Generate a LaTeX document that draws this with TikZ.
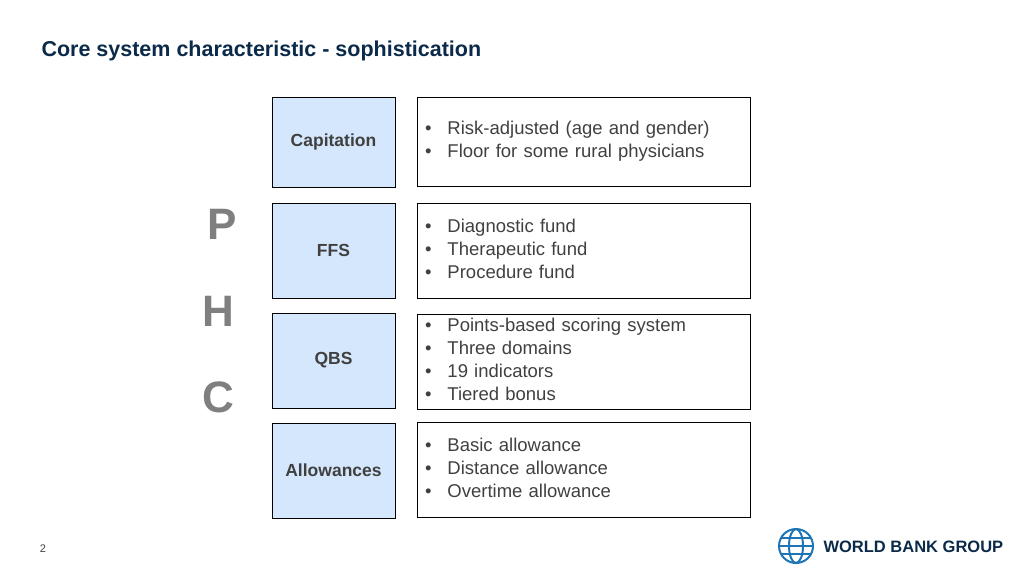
\documentclass[tikz,border=0pt]{standalone}
\usepackage{fontspec}
\setmainfont{Liberation Sans}
\usetikzlibrary{positioning}
\definecolor{titleblue}{HTML}{0B2A4A}
\definecolor{boxblue}{HTML}{D5E7FC}
\definecolor{textgray}{HTML}{404040}
\definecolor{letgray}{HTML}{7F7F7F}
\definecolor{wbblue}{HTML}{1D75B5}
\newcommand{\bulletlines}[1]{\begin{tabular}{@{}l@{\hspace{16pt}}l@{}}#1\end{tabular}}
\newcommand{\bl}{\textbullet}

\begin{document}
\begin{tikzpicture}[x=1pt, y=-1pt,
	kindbox/.style={draw=black, line width=1pt, fill=boxblue, minimum width=123pt,
		font=\fontsize{17.5}{20}\selectfont\bfseries, text=textgray},
	infobox/.style={draw=black, line width=1pt, minimum width=333pt, align=left,
		font=\fontsize{18.5}{23}\selectfont, text=textgray, inner sep=0pt},
	phcletter/.style={font=\fontsize{44}{44}\selectfont\bfseries, text=letgray}]
	\useasboundingbox (0,0) rectangle (1024,576);

	\node[anchor=west, font=\fontsize{21.5}{24}\selectfont\bfseries, text=titleblue] (title) at (38,51) {Core system characteristic - sophistication};

	% left column
	\node[kindbox, minimum height=90pt] (cap) at (333.5,142) {Capitation};
	\node[kindbox, minimum height=95pt] (ffs) at (333.5,250.5) {FFS};
	\node[kindbox, minimum height=95pt] (qbs) at (333.5,360.5) {QBS};
	\node[kindbox, minimum height=95pt] (allow) at (333.5,470.5) {Allowances};
	\node[font=\fontsize{17.5}{20}\selectfont\bfseries, text=textgray] at (333.5,147) {};

	% right column
	\node[infobox, minimum height=89pt, text width=333pt] (capinfo) at (583.5,141.5) {\hspace{8pt}\raisebox{-6pt}{\bulletlines{\bl & Risk-adjusted (age and gender)\\ \bl & Floor for some rural physicians}}};
	\node[infobox, minimum height=95pt, text width=333pt] (ffsinfo) at (583.5,250.5) {\hspace{8pt}\raisebox{-2pt}{\bulletlines{\bl & Diagnostic fund\\ \bl & Therapeutic fund\\ \bl & Procedure fund}}};
	\node[infobox, minimum height=95pt, text width=333pt] (qbsinfo) at (583.5,361.5) {\hspace{8pt}\raisebox{-2pt}{\bulletlines{\bl & Points-based scoring system\\ \bl & Three domains\\ \bl & 19 indicators\\ \bl & Tiered bonus}}};
	\node[infobox, minimum height=95pt, text width=333pt] (allowinfo) at (583.5,469.5) {\hspace{8pt}\raisebox{-2pt}{\bulletlines{\bl & Basic allowance\\ \bl & Distance allowance\\ \bl & Overtime allowance}}};

	% PHC letters
	\node[phcletter] (p) at (222,224) {P};
	\node[phcletter] (h) at (218,311) {H};
	\node[phcletter] (c) at (218,397) {C};

	\node[font=\fontsize{11}{12}\selectfont, text=textgray] (pagenum) at (43,549) {2};

	% logo
	\coordinate (globe) at (796,546);
	\begin{scope}[wbblue, line width=2pt]
		\draw (globe) circle [radius=17];
		\draw (globe) ellipse [x radius=7, y radius=17];
		\draw ([yshift=-8]globe) ++(-15,0) -- ++(30,0);
		\draw ([yshift=8]globe) ++(-15,0) -- ++(30,0);
		\draw ([xshift=-17]globe) -- ([xshift=17]globe);
	\end{scope}
	\node[anchor=west, font=\fontsize{16.5}{18}\selectfont\bfseries, text=titleblue] (wbg) at (820,547) {WORLD BANK GROUP};
\end{tikzpicture}
\end{document}
